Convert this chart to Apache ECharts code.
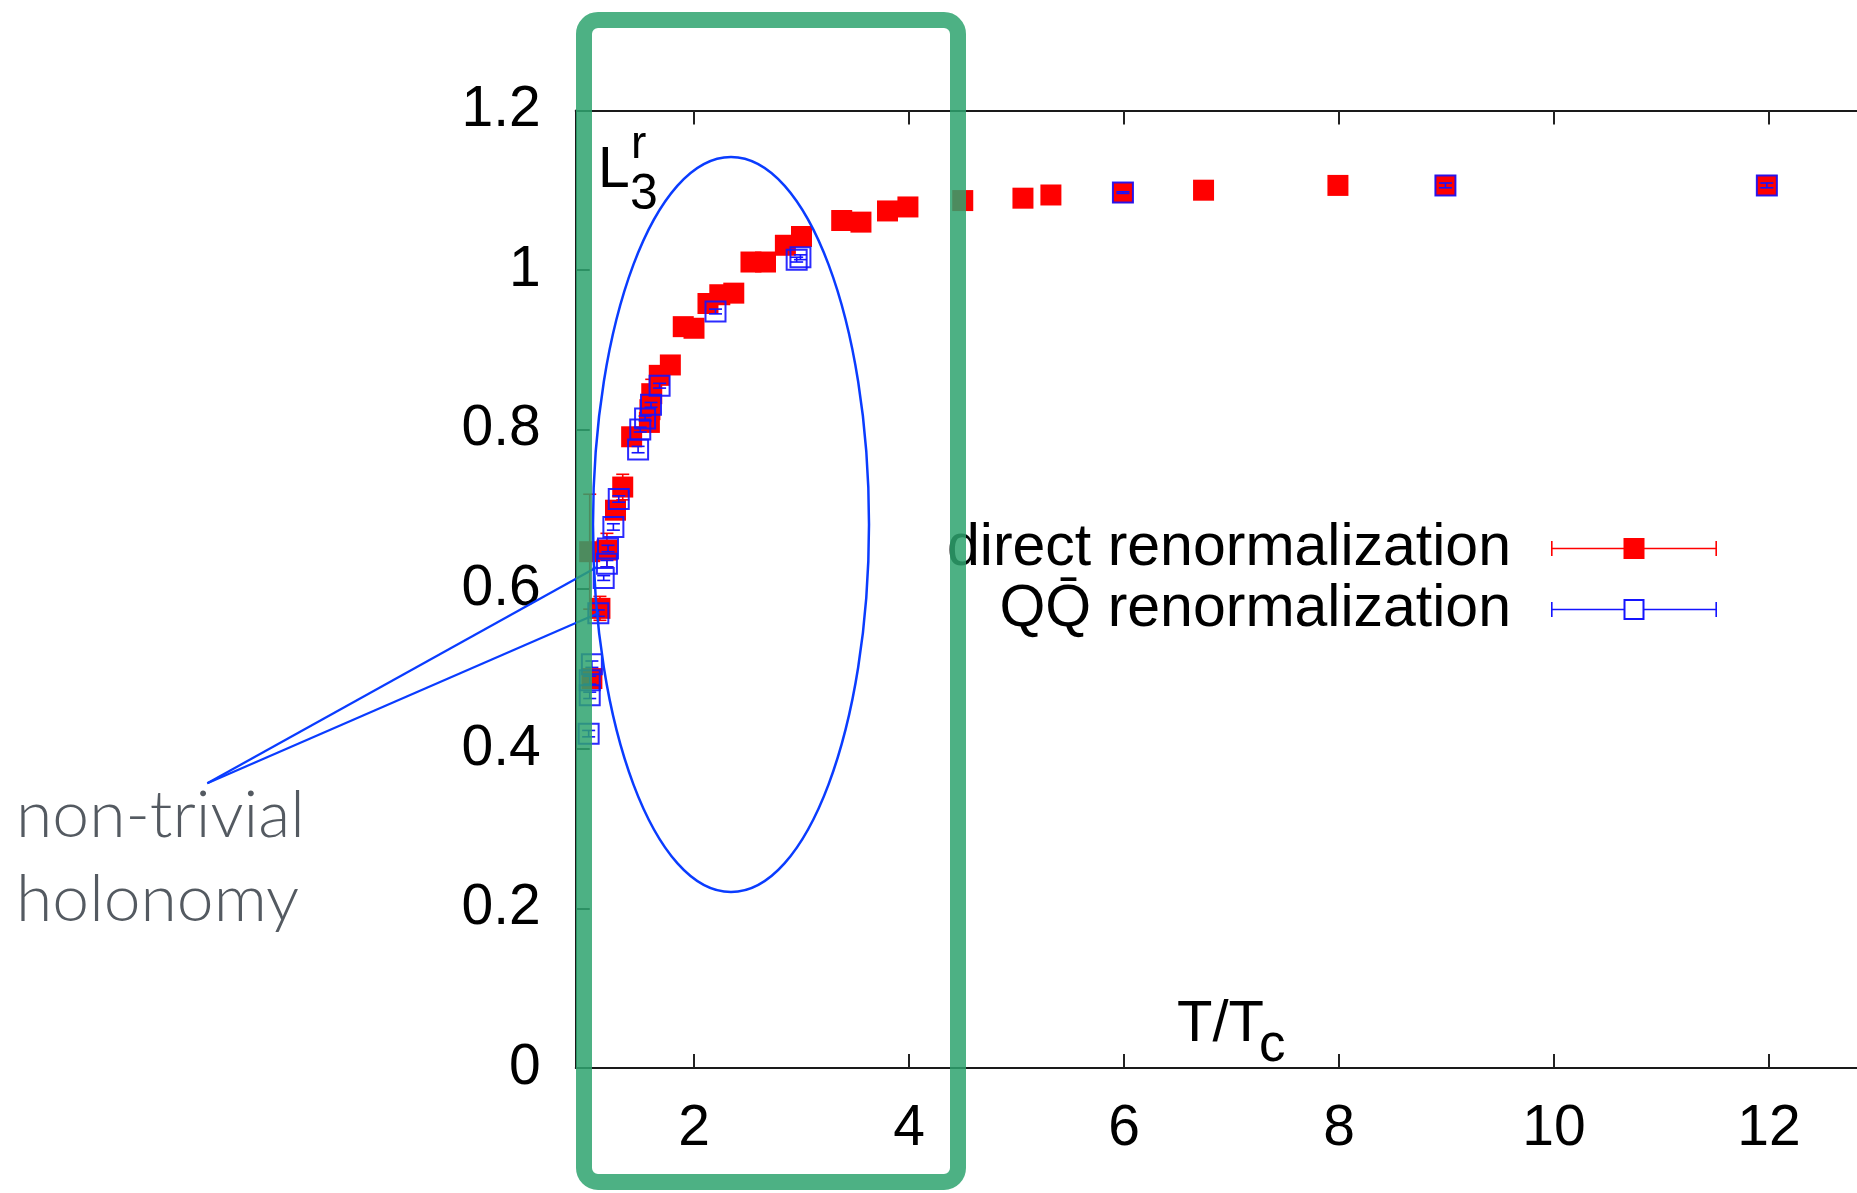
<!DOCTYPE html>
<html><head><meta charset="utf-8">
<script src="https://cdn.jsdelivr.net/npm/echarts@6/dist/echarts.min.js"></script>
<style>html,body{margin:0;padding:0;background:#fff}#c{width:1857px;height:1193px}</style>
</head><body><div id="c"></div>
<script>
// ---- data ----
const xTicks = [2, 4, 6, 8, 10, 12];
const yTicks = [0, 0.2, 0.4, 0.6, 0.8, 1, 1.2];
const seriesNames = ['direct renormalization', 'QQ\u0304 renormalization'];

const directT   = [1.03, 1.05, 1.125, 1.19, 1.27, 1.337, 1.42, 1.585, 1.59, 1.607, 1.677, 1.78, 1.90, 2.00, 2.13, 2.24, 2.37, 2.53, 2.665, 2.85, 3.00, 3.374, 3.553, 3.80, 3.99, 4.50, 5.06, 5.32, 5.99, 6.74, 7.99, 8.99, 11.98];
const directL   = [0.647, 0.488, 0.576, 0.649, 0.699, 0.728, 0.791, 0.809, 0.825, 0.845, 0.868, 0.881, 0.929, 0.927, 0.958, 0.969, 0.971, 1.010, 1.010, 1.031, 1.042, 1.062, 1.060, 1.074, 1.079, 1.087, 1.090, 1.094, 1.097, 1.100, 1.106, 1.106, 1.106];
const directErr = [0.072, 0.008, 0.015, 0.021, 0.010, 0.016, 0.008, 0.008, 0.008, 0.018, 0.008, 0.006, 0.006, 0.006, 0.006, 0.005, 0.005, 0.005, 0.005, 0.005, 0.005, 0.004, 0.004, 0.004, 0.004, 0.004, 0.004, 0.004, 0.008, 0.004, 0.004, 0.004, 0.004];

const qqT   = [1.02, 1.03, 1.03, 1.05, 1.11, 1.16, 1.19, 1.20, 1.25, 1.30, 1.48, 1.50, 1.545, 1.60, 1.68, 2.20, 2.955, 2.99, 5.99, 8.99, 11.98];
const qqL   = [0.419, 0.467, 0.486, 0.506, 0.570, 0.614, 0.632, 0.651, 0.678, 0.713, 0.775, 0.800, 0.814, 0.831, 0.855, 0.948, 1.013, 1.016, 1.097, 1.106, 1.106];
const qqErr = [0.004, 0.004, 0.005, 0.004, 0.004, 0.003, 0.004, 0.004, 0.004, 0.004, 0.004, 0.003, 0.003, 0.003, 0.003, 0.003, 0.003, 0.003, 0.001, 0.003, 0.003];

// ---- build ----
const directData = directT.map((t, i) => [t, directL[i], directErr[i]]);
const qqData = qqT.map((t, i) => [t, qqL[i], qqErr[i]]);

const RED = '#ff0000';
const BLUE = '#1414ff';
const FONT = 'Liberation Sans';

function errRender(color) {
  return function (params, api) {
    const x = api.value(0), y = api.value(1), e = api.value(2);
    const t = api.coord([x, y + e]);
    const b = api.coord([x, y - e]);
    const h = 6.5;
    const st = { stroke: color, lineWidth: 1.6 };
    return {
      type: 'group',
      children: [
        { type: 'line', shape: { x1: t[0], y1: t[1], x2: b[0], y2: b[1] }, style: st },
        { type: 'line', shape: { x1: t[0] - h, y1: t[1], x2: t[0] + h, y2: t[1] }, style: st },
        { type: 'line', shape: { x1: b[0] - h, y1: b[1], x2: b[0] + h, y2: b[1] }, style: st }
      ]
    };
  };
}

const redIcon = 'path://M0 9.8H166V11.3H0Z M0 3H1.6V18H0Z M164.4 3H166V18H164.4Z M72.5 0H93.5V21H72.5Z';
const blueIcon = 'path://M0 9.8H72.5V11.3H0Z M93.5 9.8H166V11.3H93.5Z M0 3H1.6V18H0Z M164.4 3H166V18H164.4Z M72.5 0H93.5V21H72.5Z M74.5 2V19H91.5V2Z';

const axLine = { color: '#1a1a1a', width: 2 };
const tickStyle = { color: '#222', width: 2 };
const labelStyle = { fontSize: 57, fontFamily: FONT, color: '#000' };

const chart = echarts.init(document.getElementById('c'), null, { renderer: 'canvas', width: 1857, height: 1193 });

const option = {
  animation: false,
  backgroundColor: '#ffffff',
  grid: { left: 575.75, top: 110.4, right: -19.5, bottom: 125, containLabel: false, outerBoundsMode: 'none' },
  xAxis: [
    { type: 'value', min: 0.9, max: 13, position: 'bottom',
      axisLine: { show: true, onZero: false, lineStyle: axLine },
      axisTick: { show: true, inside: true, length: 14, customValues: xTicks, lineStyle: tickStyle },
      axisLabel: Object.assign({ customValues: xTicks, margin: 33 }, labelStyle),
      splitLine: { show: false } },
    { type: 'value', min: 0.9, max: 13, position: 'top',
      axisLine: { show: true, onZero: false, lineStyle: axLine },
      axisTick: { show: true, inside: true, length: 14, customValues: xTicks, lineStyle: tickStyle },
      axisLabel: { show: false },
      splitLine: { show: false } }
  ],
  yAxis: [
    { type: 'value', min: 0, max: 1.2, interval: 0.2, position: 'left',
      axisLine: { show: true, onZero: false, lineStyle: axLine },
      axisTick: { show: true, inside: true, length: 14, customValues: yTicks, lineStyle: tickStyle },
      axisLabel: Object.assign({ customValues: yTicks, margin: 35 }, labelStyle),
      splitLine: { show: false } }
  ],
  legend: {
    orient: 'vertical', align: 'right', right: 140, top: 519, padding: 0, itemGap: 2,
    itemWidth: 166, itemHeight: 21, selectedMode: false,
    textStyle: { fontSize: 59, fontFamily: FONT, color: '#000', padding: [0, 35, 0, 0] },
    data: [
      { name: seriesNames[0], icon: redIcon, itemStyle: { color: RED, borderWidth: 0, opacity: 1 } },
      { name: seriesNames[1], icon: blueIcon, itemStyle: { color: BLUE, borderWidth: 0, opacity: 1 } }
    ]
  },
  series: [
    { name: 'direct-err', type: 'custom', data: directData, encode: { x: 0, y: 1 }, renderItem: errRender(RED), silent: true, z: 2 },
    { name: seriesNames[0], type: 'scatter', data: directData, encode: { x: 0, y: 1 }, symbol: 'rect', symbolSize: 21,
      itemStyle: { color: RED, opacity: 1 }, emphasis: { disabled: true }, silent: true, z: 3 },
    { name: 'qq-err', type: 'custom', data: qqData, encode: { x: 0, y: 1 }, renderItem: errRender(BLUE), silent: true, z: 4 },
    { name: seriesNames[1], type: 'scatter', data: qqData, encode: { x: 0, y: 1 }, symbol: 'rect', symbolSize: 20,
      itemStyle: { color: 'rgba(0,0,0,0)', borderColor: BLUE, borderWidth: 2, opacity: 0.9 }, emphasis: { disabled: true }, silent: true, z: 5 }
  ],
  graphic: [
    // axis labels
    { type: 'text', x: 598, y: 171.7, z: 10, style: { text: 'L', fontSize: 57, fontFamily: FONT, fill: '#000', verticalAlign: 'middle' } },
    { type: 'text', x: 630, y: 195, z: 10, style: { text: '3', fontSize: 50, fontFamily: FONT, fill: '#000', verticalAlign: 'middle' } },
    { type: 'text', x: 631, y: 145, z: 10, style: { text: 'r', fontSize: 46, fontFamily: FONT, fill: '#000', verticalAlign: 'middle' } },
    { type: 'text', x: 1177, y: 1024.5, z: 10, style: { text: 'T/T', fontSize: 58, fontFamily: FONT, fill: '#000', verticalAlign: 'middle' } },
    { type: 'text', x: 1259, y: 1046, z: 10, style: { text: 'c', fontSize: 53, fontFamily: FONT, fill: '#000', verticalAlign: 'middle' } },
    // annotation
    { type: 'ellipse', z: 20, shape: { cx: 731, cy: 524.5, rx: 138, ry: 367.5 }, style: { fill: 'none', stroke: '#0a3cff', lineWidth: 2.5 } },
    { type: 'line', z: 20, shape: { x1: 207.3, y1: 783.3, x2: 596.7, y2: 567.3 }, style: { stroke: '#0a3cff', lineWidth: 2.2 } },
    { type: 'line', z: 20, shape: { x1: 207.3, y1: 783.3, x2: 599.3, y2: 612.7 }, style: { stroke: '#0a3cff', lineWidth: 2.2 } },
    { type: 'text', x: 16, y: 816, z: 20, style: { text: 'non-trivial', fontSize: 66, fontFamily: 'Lato', fontWeight: 300, fill: '#545a61', verticalAlign: 'middle' } },
    { type: 'text', x: 16, y: 899.5, z: 20, style: { text: 'holonomy', fontSize: 66, fontFamily: 'Lato', fontWeight: 300, fill: '#545a61', verticalAlign: 'middle' } },
    // green highlight box
    { type: 'rect', z: 30, shape: { x: 584, y: 20, width: 374, height: 1162, r: 14 }, style: { fill: 'none', stroke: '#2ea36f', lineWidth: 16, opacity: 0.85 } }
  ]
};
chart.setOption(option);
</script>
</body></html>
